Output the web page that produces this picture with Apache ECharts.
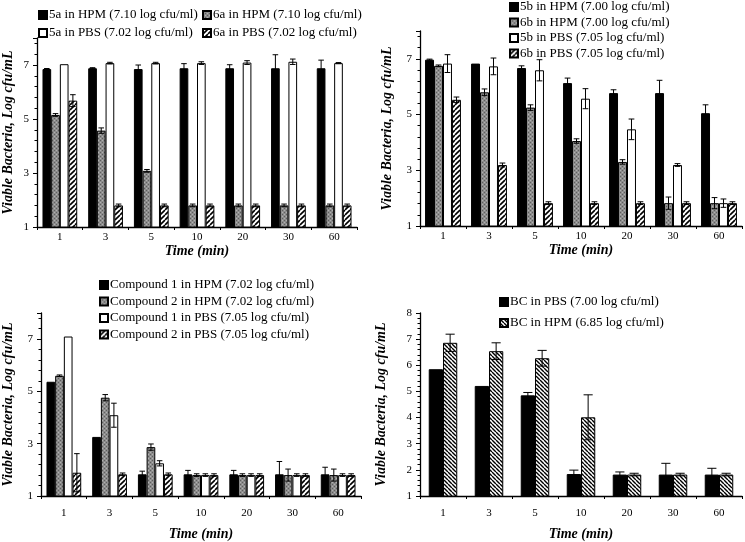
<!DOCTYPE html>
<html><head><meta charset="utf-8">
<script src="https://cdn.jsdelivr.net/npm/echarts@6/dist/echarts.min.js"></script>
<style>html,body{margin:0;padding:0;background:#fff}#c{width:745px;height:542px}</style>
</head><body><div id="c"></div>
<script>
const categories = ['1','3','5','10','20','30','60'];

// Panel A (top-left)
const a5aHPM = [6.85, 6.88, 6.85, 6.88, 6.88, 6.88, 6.88];
const a5aHPMerr = [0.02, 0.02, 0.15, 0.17, 0.13, 0.5, 0.3];
const a6aHPM = [5.15, 4.57, 3.08, 1.8, 1.8, 1.8, 1.8];
const a6aHPMerr = [0.05, 0.1, 0.05, 0.05, 0.05, 0.05, 0.05];
const a5aPBS = [7.03, 7.07, 7.07, 7.07, 7.09, 7.12, 7.07];
const a5aPBSerr = [0, 0.03, 0.03, 0.05, 0.07, 0.1, 0.02];
const a6aPBS = [5.68, 1.8, 1.8, 1.8, 1.8, 1.8, 1.8];
const a6aPBSerr = [0.22, 0.05, 0.05, 0.05, 0.05, 0.05, 0.05];

// Panel B (top-right)
const b5bHPM = [6.97, 6.83, 6.67, 6.13, 5.77, 5.77, 5.05];
const b5bHPMerr = [0.02, 0, 0.08, 0.18, 0.12, 0.46, 0.3];
const b6bHPM = [6.75, 5.8, 5.25, 4.05, 3.3, 1.82, 1.82];
const b6bHPMerr = [0.03, 0.12, 0.1, 0.08, 0.08, 0.22, 0.2];
const b5bPBS = [6.83, 6.73, 6.59, 5.57, 4.47, 3.19, 1.82];
const b5bPBSerr = [0.32, 0.3, 0.38, 0.36, 0.37, 0.05, 0.15];
const b6bPBS = [5.53, 3.19, 1.82, 1.82, 1.82, 1.82, 1.82];
const b6bPBSerr = [0.1, 0.07, 0.05, 0.05, 0.05, 0.05, 0.05];

// Panel C (bottom-left)
const cC1HPM = [5.37, 3.26, 1.83, 1.83, 1.83, 1.83, 1.83];
const cC1HPMerr = [0, 0, 0.12, 0.15, 0.15, 0.49, 0.27];
const cC2HPM = [5.6, 4.76, 2.87, 1.8, 1.8, 1.8, 1.8];
const cC2HPMerr = [0.03, 0.12, 0.12, 0.05, 0.05, 0.23, 0.23];
const cC1PBS = [7.1, 4.09, 2.25, 1.8, 1.8, 1.8, 1.8];
const cC1PBSerr = [0, 0.46, 0.1, 0.05, 0.05, 0.05, 0.05];
const cC2PBS = [1.89, 1.83, 1.83, 1.8, 1.8, 1.8, 1.8];
const cC2PBSerr = [0.73, 0.05, 0.05, 0.05, 0.05, 0.05, 0.05];

// Panel D (bottom-right)
const dBCPBS = [5.85, 5.21, 4.85, 1.84, 1.82, 1.82, 1.82];
const dBCPBSerr = [0, 0, 0.11, 0.15, 0.1, 0.43, 0.24];
const dBCHPM = [6.86, 6.54, 6.27, 4.01, 1.82, 1.82, 1.82];
const dBCHPMerr = [0.33, 0.32, 0.3, 0.86, 0.05, 0.05, 0.05];

const namesA = ['5a in HPM (7.10 log cfu/ml)','6a in HPM (7.10 log cfu/ml)','5a in PBS (7.02 log cfu/ml)','6a in PBS (7.02 log cfu/ml)'];
const namesB = ['5b in HPM (7.00 log cfu/ml)','6b in HPM (7.00 log cfu/ml)','5b in PBS (7.05 log cfu/ml)','6b in PBS (7.05 log cfu/ml)'];
const namesC = ['Compound 1 in HPM (7.02 log cfu/ml)','Compound 2 in HPM (7.02 log cfu/ml)','Compound 1 in PBS (7.05 log cfu/ml)','Compound 2 in PBS (7.05 log cfu/ml)'];
const namesD = ['BC in PBS (7.00 log cfu/ml)','BC in HPM (6.85 log cfu/ml)'];

const yTitle = 'Viable Bacteria, Log cfu/mL';
const xTitle = 'Time (min)';

// patterns
function mkCanvas(n, draw){ const c=document.createElement('canvas'); c.width=n; c.height=n; const g=c.getContext('2d'); draw(g,n); return c; }
const grayPat = mkCanvas(4,(g,n)=>{ g.fillStyle='#8c8c8c'; g.fillRect(0,0,n,n); g.fillStyle='#5e5e5e'; g.fillRect(0,0,1,1); g.fillRect(2,2,1,1); g.fillStyle='#b0b0b0'; g.fillRect(2,0,1,1); g.fillRect(0,2,1,1);});
const fwdPat = mkCanvas(5,(g,n)=>{ g.fillStyle='#fff'; g.fillRect(0,0,n,n); g.strokeStyle='#000'; g.lineWidth=1.6; g.beginPath(); for(let k=-1;k<=1;k++){ g.moveTo(k*n, n); g.lineTo(k*n+n, 0);} g.stroke();});
const bwdPat = mkCanvas(4,(g,n)=>{ g.fillStyle='#fff'; g.fillRect(0,0,n,n); g.strokeStyle='#000'; g.lineWidth=1.4; g.beginPath(); for(let k=-1;k<=1;k++){ g.moveTo(k*n, 0); g.lineTo(k*n+n, n);} g.stroke();});
const FILL = {
  black: '#000',
  gray: {image: grayPat, repeat: 'repeat'},
  white: '#fff',
  fwd: {image: fwdPat, repeat: 'repeat'},
  bwd: {image: bwdPat, repeat: 'repeat'}
};

const FONT = 'Liberation Serif';
const grids = [
  {left: 35, top: 38, width: 322, height: 189},
  {left: 420, top: 31, width: 322, height: 195},
  {left: 38, top: 313, width: 323, height: 191},
  {left: 420, top: 313, width: 322, height: 191}
];
const xGaps = [16, 17, 31, 31];
const xLabelMargins = [5, 5, 12, 12];
const yGaps = [22, 26, 26, 32];

const xAxis = grids.map((g,i)=>({
  type: 'category', gridIndex: i, data: categories,
  name: xTitle, nameLocation: 'middle', nameGap: xGaps[i],
  nameTextStyle: {fontFamily: FONT, fontSize: 14, fontWeight: 'bold', fontStyle: 'italic', color: '#000'},
  axisLine: {lineStyle: {color: '#000', width: 1.3}},
  axisTick: {show: true, length: 3, lineStyle: {color: '#000'}},
  axisLabel: {fontFamily: FONT, fontSize: 11, color: '#000', margin: xLabelMargins[i]},
  splitLine: {show: false}
}));
const yAxis = grids.map((g,i)=>({
  type: 'value', gridIndex: i, min: 1, max: 8, interval: i===3 ? 1 : 2,
  name: yTitle, nameLocation: 'middle', nameGap: yGaps[i],
  nameTextStyle: {fontFamily: FONT, fontSize: 14, fontWeight: 'bold', fontStyle: 'italic', color: '#000'},
  axisLine: {show: true, lineStyle: {color: '#000', width: 1.3}},
  axisTick: {show: true, length: 4, lineStyle: {color: '#000'}},
  minorTick: {show: true, splitNumber: 5, length: 2.5, lineStyle: {color: '#000'}},
  axisLabel: {fontFamily: FONT, fontSize: 11, color: '#000', margin: 8, showMaxLabel: i===3},
  splitLine: {show: false}
}));

const series = [];
function addPanel(gi, names, vals, errs, fills, gap){
  const n = names.length;
  vals.forEach((v,si)=>{
    series.push({
      type: 'bar', name: names[si], xAxisIndex: gi, yAxisIndex: gi, data: v,
      barGap: '0%', barCategoryGap: gap,
      itemStyle: {color: FILL[fills[si]], borderColor: '#000', borderWidth: 1},
      emphasis: {disabled: true}, animation: false, z: 2
    });
  });
  const gf = parseFloat(gap)/100;
  errs.forEach((e,si)=>{
    series.push({
      type: 'custom', xAxisIndex: gi, yAxisIndex: gi, animation: false, z: 5, silent: true,
      data: e.map((ev,k)=>[k, vals[si][k], ev]),
      encode: {x: 0, y: 1},
      renderItem: function(params, api){
        const ci = api.value(0), v = api.value(1), er = api.value(2);
        if (!er) return {type: 'group', children: []};
        const c = api.coord([ci, v]);
        const t = api.coord([ci, v + er]);
        const b = api.coord([ci, v - er]);
        const catW = api.size([1, 0])[0];
        const gw = catW * (1 - gf), bw = gw / n;
        const x = c[0] - gw/2 + bw*(si + 0.5);
        const cw = bw * 0.32;
        const st = {stroke: '#000', lineWidth: 1};
        return {type: 'group', children: [
          {type: 'line', shape: {x1: x, y1: t[1], x2: x, y2: b[1]}, style: st},
          {type: 'line', shape: {x1: x-cw, y1: t[1], x2: x+cw, y2: t[1]}, style: st},
          {type: 'line', shape: {x1: x-cw, y1: b[1], x2: x+cw, y2: b[1]}, style: st}
        ]};
      }
    });
  });
}
addPanel(0, namesA, [a5aHPM, a6aHPM, a5aPBS, a6aPBS], [a5aHPMerr, a6aHPMerr, a5aPBSerr, a6aPBSerr], ['black','gray','white','fwd'], '24%');
addPanel(1, namesB, [b5bHPM, b6bHPM, b5bPBS, b6bPBS], [b5bHPMerr, b6bHPMerr, b5bPBSerr, b6bPBSerr], ['black','gray','white','fwd'], '22%');
addPanel(2, namesC, [cC1HPM, cC2HPM, cC1PBS, cC2PBS], [cC1HPMerr, cC2HPMerr, cC1PBSerr, cC2PBSerr], ['black','gray','white','fwd'], '24%');
addPanel(3, namesD, [dBCPBS, dBCHPM], [dBCPBSerr, dBCHPMerr], ['black','bwd'], '38%');

const legBase = {orient: 'vertical', selectedMode: false, itemWidth: 8, itemHeight: 8, icon: 'rect',
  textStyle: {fontFamily: FONT, fontSize: 13, color: '#000', lineHeight: 14, padding: [0,0,0,-3]}, padding: 0};
const legend = [
  Object.assign({}, legBase, {left: 38, top: 8, itemGap: 4, data: [namesA[0], namesA[2]]}),
  Object.assign({}, legBase, {left: 202, top: 8, itemGap: 4, data: [namesA[1], namesA[3]]}),
  Object.assign({}, legBase, {left: 509, top: 0, itemGap: 1.5, data: namesB}),
  Object.assign({}, legBase, {left: 99, top: 278, itemGap: 2.5, data: namesC}),
  Object.assign({}, legBase, {left: 499, top: 295, itemGap: 7, data: namesD})
];

const chart = echarts.init(document.getElementById('c'), null, {renderer: 'canvas'});
chart.setOption({animation: false, backgroundColor: '#fff', grid: grids, xAxis, yAxis, series, legend});
</script></body></html>
